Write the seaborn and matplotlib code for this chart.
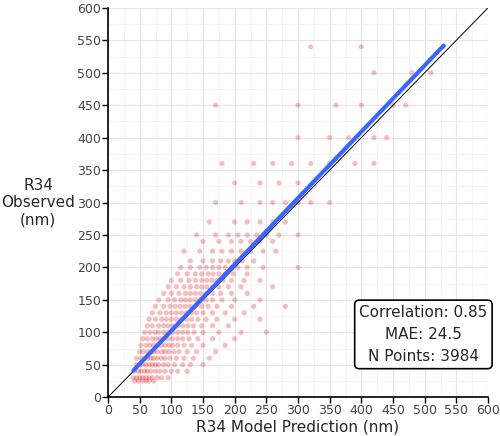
import matplotlib
matplotlib.use("Agg")
import matplotlib.pyplot as plt
import seaborn as sns
import pandas as pd
from matplotlib.ticker import MultipleLocator

obs_levels = [25,30,40,50,60,70,80,90,100,110,120,130,140,150,160,170,180,190,200,210,225,240,250,270,300,330,360,400,450,500,540]
pred_by_level = [
 [42,48,55,60,65,72],
 [40,45,50,55,60,65,70,78,85,95],
 [42,48,52,58,62,68,75,82,90,100,110,125],
 [45,50,55,60,65,70,75,80,88,95,105,118,130,150],
 [45,52,58,63,68,72,78,84,90,98,108,120,135,160],
 [50,55,62,68,72,78,85,90,96,104,112,125,140,170],
 [52,60,66,72,78,84,90,96,102,110,120,132,150,185],
 [55,62,70,76,82,88,95,102,110,118,128,142,165,200],
 [58,66,74,80,88,95,102,110,118,126,136,150,175,210,250],
 [62,70,80,88,95,102,110,118,126,135,148,165,190],
 [65,75,85,92,100,108,116,124,132,142,155,172,200,240],
 [70,82,92,100,108,116,124,132,140,150,165,185,215],
 [75,88,98,106,114,122,130,138,148,158,172,195,230,280],
 [80,95,105,115,122,130,138,146,155,165,180,200,240],
 [88,100,112,122,130,138,146,155,165,178,195,220],
 [95,108,120,130,140,148,156,165,175,190,210,260],
 [100,115,128,138,148,156,164,172,182,195,215,240],
 [110,125,138,148,158,166,175,185,198,220],
 [115,130,145,155,165,175,185,195,205,220,245,300],
 [130,150,165,178,190,200,212,230],
 [120,145,165,180,195,210,225,245,265],
 [150,175,195,210,225,240,260],
 [140,170,190,205,220,235,250,270,300],
 [160,200,220,240,260,280],
 [170,210,240,260,280,300,320,350],
 [200,240,270,300],
 [180,230,260,290,320,350,390,420],
 [300,350,380,420,440],
 [170,300,360,400,450,470],
 [420,480,510],
 [320,400,530],
]
rows = [(p, o) for o, ps in zip(obs_levels, pred_by_level) for p in ps]
df = pd.DataFrame(rows, columns=["pred", "obs"])

sns.set_theme(style="whitegrid")
plt.rcParams['font.family'] = ['DejaVu Sans']
fig = plt.figure(figsize=(5, 4.36), dpi=100)
ax = fig.add_axes([0.216, 0.089, 0.76, 0.893])
ax.plot([0, 600], [0, 600], color="black", lw=0.7, zorder=2)
sns.scatterplot(data=df, x="pred", y="obs", ax=ax, color="#dd0000", alpha=0.25, s=14, edgecolor="none", zorder=1)
sns.regplot(data=df, x="pred", y="obs", ax=ax, scatter=False, ci=None, color="#3a66ff", line_kws=dict(lw=3, zorder=3))
ax.set_xlim(0, 600); ax.set_ylim(0, 600)
ax.xaxis.set_major_locator(MultipleLocator(50)); ax.yaxis.set_major_locator(MultipleLocator(50))
ax.xaxis.set_minor_locator(MultipleLocator(25)); ax.yaxis.set_minor_locator(MultipleLocator(25))
ax.grid(which="major", color="#e6e6e6", lw=0.8)
ax.grid(which="minor", color="#f2f2f2", lw=0.6)
ax.set_facecolor("white")
for s in ["top", "right"]:
    ax.spines[s].set_visible(False)
for s in ["left", "bottom"]:
    ax.spines[s].set_color("black"); ax.spines[s].set_linewidth(1.2)
ax.tick_params(axis="both", which="major", labelsize=9, labelcolor="#444444", color="black", length=4, width=1, bottom=True, left=True, pad=1)
ax.set_xlabel("R34 Model Prediction (nm)", fontsize=11, labelpad=2)
ax.set_ylabel("R34\nObserved\n(nm)", fontsize=11, rotation=0, ha="center", va="center", labelpad=28)
ax.text(0.83, 0.085, "Correlation: 0.85\nMAE: 24.5\nN Points: 3984", transform=ax.transAxes,
        ha="center", va="bottom", fontsize=11, linespacing=1.6,
        bbox=dict(boxstyle="round,pad=0.3", fc="white", ec="black", lw=1.2))
fig.savefig("out.png", dpi=100)
